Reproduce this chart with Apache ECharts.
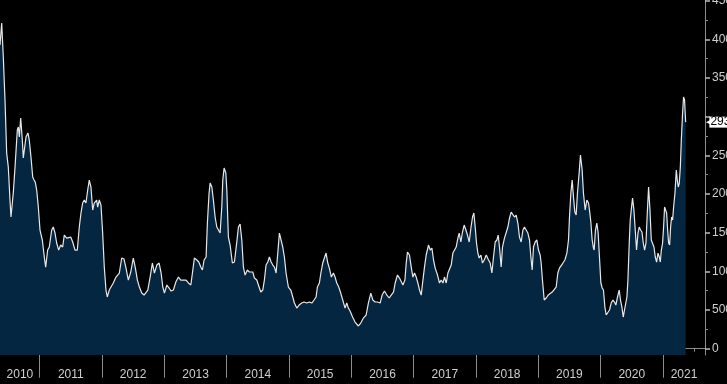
<!DOCTYPE html>
<html><head><meta charset="utf-8">
<script src="https://cdn.jsdelivr.net/npm/echarts@6/dist/echarts.min.js"></script>
<style>html,body{margin:0;padding:0;background:#000;}#c{width:727px;height:384px;}</style>
</head><body><div id="c"></div>
<script>
// decimal-year dates and values
const dates = [
2010.363,2010.390,2010.416,2010.443,2010.470,2010.496,2010.523,2010.539,2010.576,2010.604,
2010.641,2010.657,2010.673,2010.695,2010.721,2010.737,2010.753,2010.780,2010.812,2010.833,
2010.860,2010.888,2010.909,2010.929,2010.952,2010.978,2011.005,2011.042,2011.074,2011.096,
2011.128,2011.154,2011.193,2011.218,2011.246,2011.273,2011.305,2011.337,2011.369,2011.395,
2011.433,2011.459,2011.498,2011.530,2011.567,2011.604,2011.636,2011.663,2011.690,2011.716,
2011.743,2011.771,2011.796,2011.823,2011.851,2011.876,2011.915,2011.931,2011.957,2011.984,
2012.011,2012.037,2012.064,2012.085,2012.117,2012.149,2012.181,2012.225,2012.278,2012.316,
2012.353,2012.385,2012.422,2012.461,2012.502,2012.535,2012.567,2012.599,2012.637,2012.674,
2012.706,2012.734,2012.771,2012.807,2012.840,2012.878,2012.915,2012.947,2012.974,2013.000,
2013.039,2013.075,2013.108,2013.144,2013.183,2013.225,2013.263,2013.305,2013.348,2013.385,
2013.424,2013.456,2013.481,2013.520,2013.552,2013.584,2013.610,2013.637,2013.669,2013.690,
2013.717,2013.734,2013.761,2013.786,2013.814,2013.841,2013.867,2013.894,2013.921,2013.937,
2013.958,2013.986,2014.002,2014.027,2014.055,2014.091,2014.124,2014.162,2014.188,2014.215,
2014.242,2014.268,2014.295,2014.332,2014.364,2014.392,2014.419,2014.445,2014.483,2014.509,
2014.547,2014.579,2014.605,2014.632,2014.660,2014.685,2014.713,2014.740,2014.766,2014.793,
2014.820,2014.846,2014.873,2014.900,2014.926,2014.953,2014.990,2015.029,2015.061,2015.087,
2015.125,2015.162,2015.205,2015.242,2015.286,2015.327,2015.366,2015.403,2015.435,2015.456,
2015.488,2015.515,2015.542,2015.568,2015.595,2015.623,2015.648,2015.680,2015.713,2015.740,
2015.767,2015.799,2015.831,2015.863,2015.900,2015.928,2015.953,2015.981,2016.021,2016.061,
2016.114,2016.152,2016.194,2016.238,2016.274,2016.313,2016.345,2016.382,2016.419,2016.462,
2016.494,2016.531,2016.570,2016.607,2016.639,2016.676,2016.703,2016.740,2016.772,2016.799,
2016.827,2016.859,2016.880,2016.900,2016.932,2016.960,2016.987,2017.013,2017.040,2017.067,
2017.093,2017.120,2017.148,2017.173,2017.200,2017.237,2017.265,2017.292,2017.318,2017.345,
2017.382,2017.414,2017.441,2017.469,2017.494,2017.522,2017.549,2017.574,2017.602,2017.629,
2017.655,2017.682,2017.709,2017.730,2017.757,2017.783,2017.810,2017.838,2017.863,2017.891,
2017.918,2017.944,2017.966,2017.987,2018.008,2018.030,2018.051,2018.079,2018.104,2018.132,
2018.164,2018.201,2018.228,2018.255,2018.281,2018.308,2018.335,2018.356,2018.377,2018.404,
2018.425,2018.457,2018.485,2018.512,2018.538,2018.565,2018.592,2018.618,2018.645,2018.672,
2018.698,2018.725,2018.753,2018.778,2018.806,2018.833,2018.859,2018.881,2018.902,2018.923,
2018.950,2018.977,2019.003,2019.030,2019.046,2019.067,2019.095,2019.127,2019.159,2019.191,
2019.223,2019.255,2019.287,2019.314,2019.340,2019.367,2019.395,2019.427,2019.459,2019.485,
2019.501,2019.523,2019.544,2019.565,2019.587,2019.608,2019.629,2019.656,2019.677,2019.704,
2019.725,2019.753,2019.780,2019.806,2019.822,2019.844,2019.865,2019.886,2019.897,2019.918,
2019.940,2019.961,2019.982,2020.005,2020.026,2020.046,2020.069,2020.090,2020.117,2020.143,
2020.170,2020.197,2020.223,2020.245,2020.271,2020.298,2020.319,2020.342,2020.363,2020.383,
2020.406,2020.422,2020.438,2020.459,2020.475,2020.496,2020.512,2020.534,2020.555,2020.576,
2020.599,2020.619,2020.640,2020.663,2020.684,2020.705,2020.727,2020.748,2020.769,2020.791,
2020.812,2020.833,2020.855,2020.876,2020.897,2020.920,2020.940,2020.956,2020.973,2020.993,
2021.009,2021.025,2021.042,2021.058,2021.074,2021.090,2021.106,2021.122,2021.138,2021.154,
2021.170,2021.192,2021.213,2021.229,2021.245,2021.261,2021.278,2021.294,2021.314,2021.330,
2021.346,2021.363
];
const values = [
3927,4211,3772,3216,2530,2349,1923,1703,2013,2349,
2828,2867,2737,2983,2698,2466,2479,2737,2789,2698,
2479,2220,2181,2155,2052,1832,1535,1406,1186,1056,
1276,1315,1535,1574,1496,1367,1276,1341,1315,1470,
1431,1444,1444,1380,1276,1276,1574,1755,1884,1923,
1884,2052,2181,2091,1793,1884,1923,1832,1923,1858,
1496,1056,759,669,759,759,850,927,979,1173,
1160,1043,888,992,1173,1043,888,798,720,694,
669,759,927,1108,979,1082,1108,979,798,720,
824,785,746,759,862,927,888,888,888,850,
824,1018,1173,1147,1121,1056,1018,1147,1186,1625,
2013,2143,2091,1923,1703,1574,1561,1496,1832,2181,
2336,2272,2052,1444,1341,1108,1121,1380,1574,1612,
1406,1056,953,1018,992,979,992,914,888,824,
733,759,888,1082,1121,1186,1121,1082,1056,979,
1237,1496,1406,1315,1186,979,798,759,669,591,
526,565,591,604,591,604,591,630,669,798,
850,992,1108,1121,1237,1108,1043,927,979,927,
850,798,720,630,526,591,526,487,410,345,
294,332,397,436,591,720,630,604,604,591,
694,746,694,656,694,733,850,953,914,927,
824,888,1108,1250,1212,1056,927,979,927,850,
759,694,888,1056,1212,1341,1276,1302,1147,1043,
953,850,888,850,927,850,979,992,1082,1237,
1212,1315,1431,1496,1380,1509,1599,1535,1470,1380,
1561,1703,1755,1574,1367,1237,1173,1212,1108,1147,
1212,1147,1108,979,1186,1380,1406,1470,1315,1056,
1315,1431,1444,1574,1690,1767,1755,1703,1729,1625,
1444,1380,1535,1574,1561,1496,1406,1186,1018,1315,
1380,1406,1276,1212,1108,888,630,656,694,694,
733,720,798,979,1043,1056,1108,1147,1237,1406,
1703,2013,2181,1961,1767,1729,2013,2272,2505,2311,
2013,1793,1923,1884,1793,1638,1406,1302,1276,1535,
1625,1496,1186,850,785,759,539,436,436,501,
591,630,604,565,669,759,630,539,410,501,
501,669,888,1367,1664,1832,1948,1793,1535,1276,
1496,1574,1535,1509,1367,1276,1367,1755,2091,1793,
1406,1431,1315,1186,1121,1237,1186,1121,1276,1367,
1574,1832,1819,1755,1535,1367,1341,1574,1703,1664,
1832,2013,2311,2181,2091,2143,2349,2698,3048,3254,
3216,2930
];
const yTicks = [0,500,1000,1500,2000,2500,3000,3500,4000,4500];
const yMinorTicks = [250,750,1250,1750,2250,2750,3250,3750,4250];
const lastValue = 2930;
const yearLabels = ['2010','2011','2012','2013','2014','2015','2016','2017','2018','2019','2020','2021'];
const yearLabelPos = [2010.682,2011.5,2012.5,2013.5,2014.5,2015.5,2016.5,2017.5,2018.5,2019.5,2020.5,2021.337];

function toTs(d){const y=Math.floor(d);const s=Date.UTC(y,0,1),e=Date.UTC(y+1,0,1);return s+(d-y)*(e-s);}
const data = dates.map((d,i)=>[toTs(d), values[i]]);
const xMin = toTs(2010.3628), xMax = toTs(2021.674);
const yearStarts = []; const quarterStarts = [];
for (let y=2011;y<=2021;y++) yearStarts.push(Date.UTC(y,0,1));
for (let y=2010;y<=2021;y++) for (let m=0;m<12;m+=3){const t=Date.UTC(y,m,1); if(t>xMin&&t<xMax&&m!==0) quarterStarts.push(t);}
const labelTs = yearLabelPos.map(toTs);
// the tick label hidden behind the last-value tag is not drawn
const yLabelValues = yTicks.filter(v => Math.abs(v - lastValue) > 150);

const font = '"Liberation Sans Narrow","Liberation Sans",Arial,sans-serif';
const grey = '#8c8c8c';
const chart = echarts.init(document.getElementById('c'));
chart.setOption({
  backgroundColor:'#000',
  animation:false,
  grid:{left:0,right:22,top:0,bottom:29,containLabel:false,outerBoundsMode:'none'},
  xAxis:[
    {type:'value',min:xMin,max:xMax,
     axisLine:{show:true,lineStyle:{color:grey,width:1}},
     axisTick:{show:true,customValues:quarterStarts,length:3,lineStyle:{color:grey}},
     axisLabel:{show:true,customValues:labelTs,margin:14,color:'#cfcfcf',fontSize:12,fontFamily:font,
       formatter:function(v){const i=labelTs.indexOf(v);return i>=0?yearLabels[i]:String(new Date(v).getUTCFullYear());}},
     splitLine:{show:false}},
    {type:'value',min:xMin,max:xMax,position:'bottom',
     axisLine:{show:false},
     axisTick:{show:true,customValues:yearStarts,length:29,lineStyle:{color:grey}},
     axisLabel:{show:false},splitLine:{show:false}}
  ],
  yAxis:[
    {type:'value',position:'right',min:-81,max:4509,
     axisLine:{show:true,lineStyle:{color:grey}},
     axisTick:{show:true,customValues:yTicks,length:5,lineStyle:{color:'#bbb',width:1.5}},
     axisLabel:{show:true,customValues:yLabelValues,margin:7,color:'#cfcfcf',fontSize:12,fontFamily:font,
       formatter:function(v){return String(v);}},
     splitLine:{show:false}},
    {type:'value',position:'right',min:-81,max:4509,
     axisLine:{show:false},
     axisTick:{show:true,customValues:yMinorTicks,length:3,lineStyle:{color:grey}},
     axisLabel:{show:false},splitLine:{show:false}},
    {type:'value',position:'right',min:-81,max:4509,z:20,
     axisLine:{show:false},axisTick:{show:false},
     axisLabel:{show:true,customValues:[lastValue],margin:1,fontFamily:font,fontSize:12,
       formatter:function(v){return '{a|◀}{b|'+v+'}';},
       rich:{a:{color:'#ffffff',fontSize:7,padding:[0,-2,0,0],fontFamily:'DejaVu Sans'},
             b:{color:'#000',backgroundColor:'#ffffff',fontSize:12,fontFamily:font,padding:[0,3,0,1],lineHeight:11,height:11}}},
     splitLine:{show:false}}
  ],
  series:[{
    type:'line',data:data,xAxisIndex:0,yAxisIndex:0,showSymbol:false,symbol:'none',
    lineStyle:{color:'#e8e8e8',width:1.2},
    areaStyle:{color:'#042641',opacity:1,origin:'start'},
    clip:true
  }]
});
</script></body></html>
